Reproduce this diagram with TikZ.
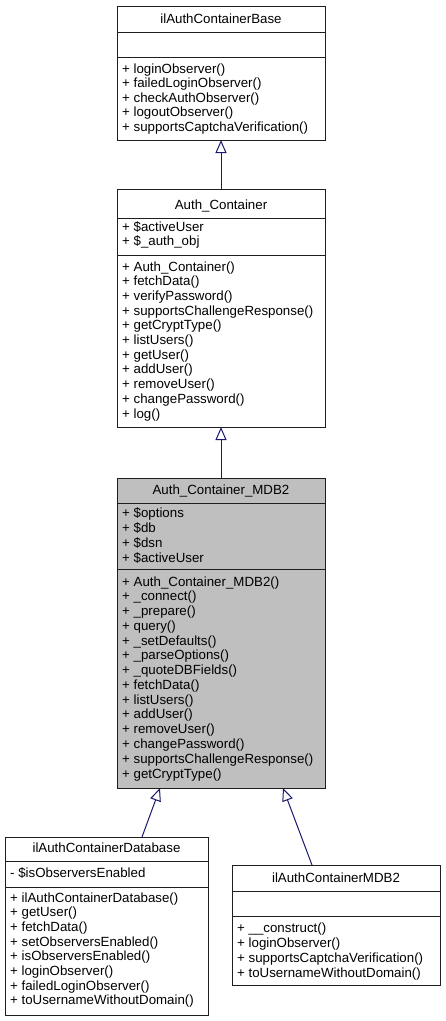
\documentclass[tikz,border=0pt]{standalone}
\usepackage{fontspec}
\usetikzlibrary{arrows.meta}
\newfontfamily\dfont{Liberation Sans}
\definecolor{edgeblue}{RGB}{25,25,112}
\definecolor{hlgrey}{RGB}{191,191,191}
\definecolor{boxline}{RGB}{30,30,30}
\tikzset{
  classbox/.style={draw=boxline, line width=1pt, fill=white, anchor=north west, inner sep=0pt, outer sep=0pt},
  hlbox/.style={classbox, fill=hlgrey},
  sepline/.style={draw=boxline, line width=1pt},
  member/.style={anchor=base west, inner sep=0pt, font=\dfont\fontsize{13.3}{15}\selectfont},
  ctitle/.style={anchor=base, inner sep=0pt, font=\dfont\fontsize{13.3}{15}\selectfont},
  inherit/.style={draw=edgeblue, line width=1pt, -{Triangle[open, length=13pt, width=11pt]}},
}
\newcommand{\memberlines}[5]{%
  \foreach \t [count=\i from 0] in {#5} {
    \node[member] (#1\i) at (#2, {#3+\i*#4}) {\t};
  }%
}
\begin{document}
\begin{tikzpicture}[x=1pt, y=-1pt]
\useasboundingbox (0,0) rectangle (445,1021);

% ilAuthContainerBase
\node[classbox, minimum width=208pt, minimum height=134pt] (base) at (117,6) {};
\draw[sepline] (117,32) -- (325,32);
\draw[sepline] (117,57) -- (325,57);
\node[ctitle] (basetitle) at (221,23) {ilAuthContainerBase};
\memberlines{basem}{122}{73}{14.5}{+ loginObserver(), + failedLoginObserver(), + checkAuthObserver(), + logoutObserver(), + supportsCaptchaVerification()}

% Auth_Container
\node[classbox, minimum width=208pt, minimum height=238pt] (authc) at (117,189) {};
\draw[sepline] (117,218) -- (325,218);
\draw[sepline] (117,255) -- (325,255);
\node[ctitle] (authctitle) at (221,209) {Auth\_Container};
\memberlines{authca}{122}{231}{14.7}{+ \$activeUser, + \$\_auth\_obj}
\memberlines{authcm}{122}{271}{14.7}{+ Auth\_Container(), + fetchData(), + verifyPassword(), + supportsChallengeResponse(), + getCryptType(), + listUsers(), + getUser(), + addUser(), + removeUser(), + changePassword(), + log()}

% Auth_Container_MDB2
\node[hlbox, minimum width=208pt, minimum height=310pt] (mdb2) at (117,478) {};
\draw[sepline] (117,503) -- (325,503);
\draw[sepline] (117,569) -- (325,569);
\node[ctitle] (mdb2title) at (221,494) {Auth\_Container\_MDB2};
\memberlines{mdb2a}{122}{517}{15}{+ \$options, + \$db, + \$dsn, + \$activeUser}
\memberlines{mdb2m}{122}{586}{14.77}{+ Auth\_Container\_MDB2(), + \_connect(), + \_prepare(), + query(), + \_setDefaults(), + \_parseOptions(), + \_quoteDBFields(), + fetchData(), + listUsers(), + addUser(), + removeUser(), + changePassword(), + supportsChallengeResponse(), + getCryptType()}

% ilAuthContainerDatabase
\node[classbox, minimum width=203pt, minimum height=178pt] (dbase) at (5,837) {};
\draw[sepline] (5,861) -- (208,861);
\draw[sepline] (5,887) -- (208,887);
\node[ctitle] (dbasetitle) at (106.5,852) {ilAuthContainerDatabase};
\memberlines{dbasea}{10}{877}{14.7}{- \$isObserversEnabled}
\memberlines{dbasem}{10}{902}{14.7}{+ ilAuthContainerDatabase(), + getUser(), + fetchData(), + setObserversEnabled(), + isObserversEnabled(), + loginObserver(), + failedLoginObserver(), + toUsernameWithoutDomain()}

% ilAuthContainerMDB2
\node[classbox, minimum width=208pt, minimum height=120pt] (imdb2) at (232,865) {};
\draw[sepline] (232,891) -- (440,891);
\draw[sepline] (232,916) -- (440,916);
\node[ctitle] (imdb2title) at (336,882) {ilAuthContainerMDB2};
\memberlines{imdb2m}{237}{932}{15}{+ \_\_construct(), + loginObserver(), + supportsCaptchaVerification(), + toUsernameWithoutDomain()}

% inheritance
\draw[inherit] (authc.north) -- (base.south);
\draw[inherit] (mdb2.north) -- (authc.south);
\draw[inherit] ([xshift=137pt]dbase.north west) -- ([xshift=43pt]mdb2.south west);
\draw[inherit] ([xshift=80pt]imdb2.north west) -- ([xshift=166pt]mdb2.south west);
\end{tikzpicture}
\end{document}
